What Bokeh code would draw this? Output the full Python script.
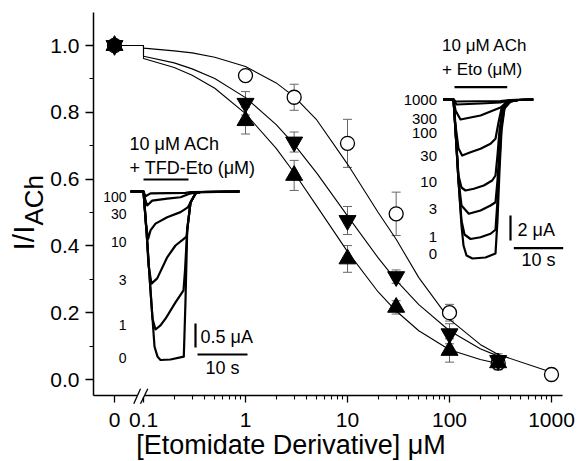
import math
from bokeh.plotting import figure
from bokeh.models import (Range1d, LinearScale, FixedTicker, CustomJSTickFormatter,
                          PrintfTickFormatter, Whisker, ColumnDataSource, TeeHead)
from bokeh.core.properties import value
from bokeh.embed import file_html
from bokeh.resources import INLINE

# ---------------- data ----------------
conc_eto = [0, 1, 3, 10, 30, 100, 300, 1000]
eto_y = [1.0, 0.910, 0.845, 0.707, 0.496, 0.200, 0.049, 0.015]
eto_err = [0, 0.015, 0.039, 0.072, 0.065, 0.025, 0.02, 0]

conc_tfd = [0, 1, 3, 10, 30, 100, 300]
down_y = [1.0, 0.827, 0.711, 0.476, 0.308, 0.137, 0.057]
down_err = [0, 0.035, 0.03, 0.042, 0.02, 0.03, 0.02]
up_y = [1.0, 0.775, 0.611, 0.361, 0.216, 0.087, 0.050]
up_err = [0, 0.04, 0.045, 0.04, 0.02, 0.035, 0.02]

fit_x = [0, 0.1, 0.1, 0.2, 0.3, 0.5, 1, 2, 3, 5, 10, 20, 30, 50, 100, 200, 300]
fit_x_eto = fit_x + [1000]
fit_eto = [1.0, 1.0, 0.992, 0.984, 0.978, 0.965, 0.937, 0.888, 0.847, 0.777, 0.645,
           0.50, 0.42, 0.305, 0.18, 0.105, 0.075, 0.022]
fit_down = [1.0, 1.0, 0.968, 0.948, 0.930, 0.901, 0.844, 0.763, 0.704, 0.618, 0.49,
            0.364, 0.297, 0.224, 0.146, 0.092, 0.07]
fit_up = [1.0, 1.0, 0.961, 0.934, 0.911, 0.872, 0.796, 0.692, 0.619, 0.519, 0.383,
          0.262, 0.205, 0.146, 0.089, 0.06, 0.048]

x_ticks = [0, 0.1, 1, 10, 100, 1000]
x_minor = [0.2, 0.3, 0.4, 0.5, 0.6, 0.7, 0.8, 0.9, 2, 3, 4, 5, 6, 7, 8, 9,
           20, 30, 40, 50, 60, 70, 80, 90, 200, 300, 400, 500, 600, 700, 800, 900]
y_ticks = [0.0, 0.2, 0.4, 0.6, 0.8, 1.0]
y_minor = [0.1, 0.3, 0.5, 0.7, 0.9]

# left inset: TFD-Eto current traces (time s, current uA)
tfd_labels = ["100", "30", "10", "3", "1", "0"]
tfd_label_i = [-0.12, -0.465, -1.06, -1.85, -2.78, -3.47]
tfd_traces = {
    "0": ([-2.6, 0, 0.6, 1.4, 2.2, 2.8, 3.4, 5.4, 8.06, 8.4, 8.74, 9.4, 10.4, 11.4, 19.2],
          [0, 0, -0.81, -2.06, -3.23, -3.44, -3.51, -3.5, -3.44, -2.27, -0.81, -0.23, -0.04, -0.01, 0]),
    "1": ([-2.6, 0, 0.6, 1.4, 1.8, 2.4, 3.4, 4.4, 6.4, 8.0, 8.3, 8.74, 9.4, 10.4, 11.4, 19.2],
          [0, 0, -0.81, -2.06, -2.65, -2.875, -2.79, -2.65, -2.31, -2.06, -1.65, -0.81, -0.23, -0.04, -0.01, 0]),
    "3": ([-2.6, 0, 0.6, 1.0, 1.6, 2.74, 4.74, 6.4, 8.06, 8.6, 8.9, 9.4, 10.4, 11.4, 19.2],
          [0, 0, -0.81, -1.54, -1.92, -1.81, -1.37, -1.125, -0.985, -0.94, -0.65, -0.23, -0.04, -0.01, 0]),
    "10": ([-2.6, 0, 0.5, 0.94, 1.4, 2.4, 4.74, 7.4, 8.86, 9.4, 10.4, 11.4, 19.2],
           [0, 0, -0.71, -0.985, -0.81, -0.67, -0.535, -0.43, -0.33, -0.23, -0.04, -0.01, 0]),
    "30": ([-2.6, 0, 0.4, 0.74, 1.74, 4.74, 7.4, 9.06, 10.4, 19.2],
           [0, 0, -0.19, -0.29, -0.19, -0.15, -0.12, -0.05, -0.02, 0]),
    "100": ([-2.6, 0, 0.4, 1.4, 8.4, 9.4, 19.2],
            [0, 0, -0.1, -0.04, -0.03, -0.01, 0]),
}

# right inset: Eto current traces (time s, current uA)
eto_labels = ["1000", "300", "100", "30", "10", "3", "1", "0"]
eto_label_i = [0.0, -1.54, -2.7, -4.48, -6.6, -8.74, -11.0, -12.34]
eto_traces = {
    "0": ([-2.09, 0, 0.41, 1.01, 1.62, 2.03, 2.64, 3.85, 6.49, 8.52, 8.92, 9.33, 9.74, 10.34, 11.56, 13.18, 16.17],
          [0, 0, -2.48, -6.48, -10.08, -11.68, -12.48, -12.72, -12.64, -12.32, -9.68, -5.68, -2.48, -0.72, -0.16, -0.04, 0]),
    "1": ([-2.09, 0, 0.41, 1.01, 1.62, 2.23, 3.45, 5.48, 7.51, 8.52, 8.92, 9.33, 9.74, 10.34, 11.56, 13.18, 16.17],
          [0, 0, -2.48, -6.48, -9.68, -10.8, -11.16, -11.02, -10.74, -10.42, -8.08, -4.88, -2.08, -0.64, -0.16, -0.04, 0]),
    "3": ([-2.09, 0, 0.41, 1.01, 1.62, 3.1, 5.48, 7.51, 8.52, 8.92, 9.33, 9.74, 10.34, 11.56, 13.18, 16.17],
          [0, 0, -2.48, -6.48, -8.48, -9.14, -8.88, -8.48, -8.22, -6.48, -4.08, -1.68, -0.48, -0.12, -0.04, 0]),
    "10": ([-2.09, 0, 0.41, 1.01, 1.62, 2.43, 4.12, 6.15, 7.85, 8.52, 8.92, 9.33, 9.94, 10.75, 13.18, 16.17],
           [0, 0, -2.48, -6.08, -7.04, -7.28, -7.14, -6.88, -6.48, -6.08, -4.48, -2.48, -0.88, -0.24, -0.04, 0]),
    "30": ([-2.09, 0, 0.41, 1.01, 1.76, 3.45, 5.48, 7.51, 8.52, 9.13, 9.74, 10.75, 13.18, 16.17],
           [0, 0, -2.08, -3.92, -4.48, -4.22, -3.94, -3.54, -3.14, -1.84, -0.72, -0.16, -0.04, 0]),
    "100": ([-2.09, 0, 0.41, 1.42, 5.48, 9.53, 10.95, 13.18, 16.17],
            [0, 0, -0.88, -1.6, -1.28, -0.64, -0.16, -0.04, 0]),
    "300": ([-2.09, 0, 0.61, 5.48, 9.53, 11.56, 16.17],
            [0, 0, -0.4, -0.32, -0.24, -0.04, 0]),
    "1000": ([-2.09, 0, 0.41, 9.53, 11.56, 16.17],
             [0, 0, -0.16, -0.12, -0.04, 0]),
}

# ---------------- layout helpers (page pixels -> data) ----------------
PX_DEC = 102.0      # pixels per decade
PX_X1 = 245.0       # page x of concentration 1
PX_Y0 = 379.0       # page y of 0.0
PX_YUNIT = 334.0    # pixels per 1.0
AX_L, AX_R, AX_T, AX_B = 93, 562, 12, 395     # axes extent (page px)
FIG_W, FIG_H = 578, 461
CAN_L, CAN_R, CAN_T, CAN_B = 0, FIG_W, 0, FIG_H
FONT = "Liberation Sans"


def lx(px):
    return 10 ** ((px - PX_X1) / PX_DEC)


def ly(py):
    return (PX_Y0 - py) / PX_YUNIT


ZERO_POS = lx(114)


def xpos(vals):
    return [ZERO_POS if v == 0 else v for v in vals]


p = figure(width=FIG_W, height=FIG_H, x_axis_type="log",
           x_range=Range1d(lx(CAN_L), lx(CAN_R)),
           y_range=Range1d(ly(CAN_B), ly(CAN_T)),
           output_backend="svg", toolbar_location=None,
           min_border=0, min_border_left=0, min_border_right=0,
           min_border_top=0, min_border_bottom=0)
p.outline_line_color = None
p.xgrid.visible = False
p.ygrid.visible = False

# inset ranges: left (5 px/s, 48 px/uA), right (4.93 px/s, 12.5 px/uA)
L_T0, L_SX, L_B0, L_SY = 143.0, 5.0, 191.0, 48.0
R_T0, R_SX, R_B0, R_SY = 453.0, 4.93, 99.0, 12.5
p.extra_x_ranges = {
    "tl": Range1d((CAN_L - L_T0) / L_SX, (CAN_R - L_T0) / L_SX),
    "tr": Range1d((CAN_L - R_T0) / R_SX, (CAN_R - R_T0) / R_SX),
}
p.extra_y_ranges = {
    "tl": Range1d(-(CAN_B - L_B0) / L_SY, (L_B0 - CAN_T) / L_SY),
    "tr": Range1d(-(CAN_B - R_B0) / R_SY, (R_B0 - CAN_T) / R_SY),
}
p.extra_x_scales = {"tl": LinearScale(), "tr": LinearScale()}
p.extra_y_scales = {"tl": LinearScale(), "tr": LinearScale()}

# ---------------- axes (fixed inside the full-canvas frame) ----------------
xa = p.xaxis[0]
xa.fixed_location = ly(AX_B)
xa.bounds = (lx(AX_L), lx(AX_R))
xa.ticker = FixedTicker(ticks=xpos(x_ticks), minor_ticks=x_minor)
xa.formatter = CustomJSTickFormatter(code="""
    if (tick < 0.08) return "0";
    if (tick < 0.5) return "0.1";
    return Math.round(tick).toString();
""")
ya = p.yaxis[0]
ya.fixed_location = lx(AX_L)
ya.bounds = (ly(AX_B), ly(AX_T))
ya.ticker = FixedTicker(ticks=y_ticks, minor_ticks=y_minor)
ya.formatter = PrintfTickFormatter(format="%.1f")
for ax, out, stand in ((xa, 7, 10), (ya, 8, 6)):
    ax.axis_line_width = 1.5
    ax.axis_line_color = "black"
    ax.major_tick_line_width = 1.3
    ax.minor_tick_line_width = 1.1
    ax.major_tick_out = out
    ax.major_tick_in = 0
    ax.minor_tick_out = 4
    ax.minor_tick_in = 0
    ax.major_label_text_font = FONT
    ax.major_label_text_font_size = "21px"
    ax.major_label_text_color = "black"
    ax.major_label_standoff = stand

# axis break on x axis (white gap + two slashes)
gap = p.segment([lx(137)], [ly(AX_B)], [lx(144)], [ly(AX_B)], line_color="white", line_width=3)
gap.level = "overlay"
sl = p.segment([lx(133.3), lx(140.0)], [ly(403.3)] * 2, [lx(140.0), lx(147.3)], [ly(388.3)] * 2,
               line_color="black", line_width=1.3)
sl.level = "overlay"

# axis titles (middle baseline: anchor = centre of the capitals)
p.text([lx(22.5)], [ly(250)], text=["I/I"], angle=math.pi / 2, text_font=value(FONT),
       text_font_size="30px", text_align="left", text_baseline="middle", text_color="black")
p.text([lx(33.5)], [ly(250 - 25)], text=["ACh"], angle=math.pi / 2, text_font=value(FONT),
       text_font_size="26px", text_align="left", text_baseline="middle", text_color="black")
p.text([lx(290.5)], [ly(444)], text=["[Etomidate Derivative] μM"], text_font=value(FONT),
       text_font_size="27px", text_align="center", text_baseline="middle", text_color="black")

# ---------------- fitted curves ----------------
for fx, fy in ((fit_x_eto, fit_eto), (fit_x, fit_down), (fit_x, fit_up)):
    p.line(xpos(fx), fy, line_color="black", line_width=1.1)

# ---------------- error bars ----------------
for cx, cy, ce in ((conc_eto, eto_y, eto_err), (conc_tfd, down_y, down_err), (conc_tfd, up_y, up_err)):
    keep = [i for i in range(len(cx)) if ce[i] > 0]
    src = ColumnDataSource(dict(x=[xpos(cx)[i] for i in keep],
                                upper=[cy[i] + ce[i] for i in keep],
                                lower=[cy[i] - ce[i] for i in keep]))
    p.add_layout(Whisker(source=src, base="x", upper="upper", lower="lower",
                         line_color="#666666", line_width=1,
                         upper_head=TeeHead(size=9, line_color="#666666", line_width=1),
                         lower_head=TeeHead(size=9, line_color="#666666", line_width=1)))

# ---------------- markers ----------------
p.scatter(xpos(conc_eto), eto_y, marker="circle", size=14, fill_color="white",
          line_color="black", line_width=1.3)
p.scatter(xpos(conc_tfd), down_y, marker="inverted_triangle", size=17,
          fill_color="black", line_color="black")
p.scatter(xpos(conc_tfd), up_y, marker="triangle", size=17,
          fill_color="black", line_color="black")

# ---------------- left inset ----------------
for key in ["100", "30", "10", "3", "1", "0"]:
    t, i = tfd_traces[key]
    p.line(t, i, x_range_name="tl", y_range_name="tl", line_color="black",
           line_width=2.2, line_join="round")
p.text([(126 - L_T0) / L_SX] * len(tfd_labels), tfd_label_i, text=tfd_labels,
       x_range_name="tl", y_range_name="tl", text_font=value(FONT),
       text_font_size="14px", text_align="right", text_baseline="middle", text_color="black")
p.text([(129 - L_T0) / L_SX] * 2, [(L_B0 - 143) / L_SY, (L_B0 - 167) / L_SY],
       text=["10 μM ACh", "+ TFD-Eto (μM)"], x_range_name="tl", y_range_name="tl",
       text_font=value(FONT), text_font_size="18px", text_align="left",
       text_baseline="middle", text_color="black")
p.line([(143 - L_T0) / L_SX, (188 - L_T0) / L_SX], [(L_B0 - 179) / L_SY] * 2,
       x_range_name="tl", y_range_name="tl", line_color="black", line_width=2.2)
p.line([(195 - L_T0) / L_SX] * 2, [(L_B0 - 323) / L_SY, (L_B0 - 347) / L_SY],
       x_range_name="tl", y_range_name="tl", line_color="black", line_width=2.2)
p.line([(197 - L_T0) / L_SX, (247 - L_T0) / L_SX], [(L_B0 - 354) / L_SY] * 2,
       x_range_name="tl", y_range_name="tl", line_color="black", line_width=2.2)
p.text([(200 - L_T0) / L_SX], [(L_B0 - 336) / L_SY], text=["0.5 μA"],
       x_range_name="tl", y_range_name="tl", text_font=value(FONT), text_font_size="18px",
       text_align="left", text_baseline="middle", text_color="black")
p.text([(222 - L_T0) / L_SX], [(L_B0 - 367) / L_SY], text=["10 s"],
       x_range_name="tl", y_range_name="tl", text_font=value(FONT), text_font_size="18px",
       text_align="center", text_baseline="middle", text_color="black")

# ---------------- right inset ----------------
for key in ["1000", "300", "100", "30", "10", "3", "1", "0"]:
    t, i = eto_traces[key]
    p.line(t, i, x_range_name="tr", y_range_name="tr", line_color="black",
           line_width=2.2, line_join="round")
p.text([(436.5 - R_T0) / R_SX] * len(eto_labels), eto_label_i, text=eto_labels,
       x_range_name="tr", y_range_name="tr", text_font=value(FONT),
       text_font_size="15px", text_align="right", text_baseline="middle", text_color="black")
p.text([(441.5 - R_T0) / R_SX] * 2, [(R_B0 - 45) / R_SY, (R_B0 - 69.3) / R_SY],
       text=["10 μM ACh", "+ Eto (μM)"], x_range_name="tr", y_range_name="tr",
       text_font=value(FONT), text_font_size="17px", text_align="left",
       text_baseline="middle", text_color="black")
p.line([(454 - R_T0) / R_SX, (506.7 - R_T0) / R_SX], [(R_B0 - 86.7) / R_SY] * 2,
       x_range_name="tr", y_range_name="tr", line_color="black", line_width=2.2)
p.line([(510 - R_T0) / R_SX] * 2, [(R_B0 - 215) / R_SY, (R_B0 - 240) / R_SY],
       x_range_name="tr", y_range_name="tr", line_color="black", line_width=2.2)
p.line([(513.3 - R_T0) / R_SX, (562.7 - R_T0) / R_SX], [(R_B0 - 247.7) / R_SY] * 2,
       x_range_name="tr", y_range_name="tr", line_color="black", line_width=2.2)
p.text([(517 - R_T0) / R_SX], [(R_B0 - 229) / R_SY], text=["2 μA"],
       x_range_name="tr", y_range_name="tr", text_font=value(FONT), text_font_size="18px",
       text_align="left", text_baseline="middle", text_color="black")
p.text([(538 - R_T0) / R_SX], [(R_B0 - 259) / R_SY], text=["10 s"],
       x_range_name="tr", y_range_name="tr", text_font=value(FONT), text_font_size="18px",
       text_align="center", text_baseline="middle", text_color="black")

open("out.html", "w").write(file_html(p, INLINE))
